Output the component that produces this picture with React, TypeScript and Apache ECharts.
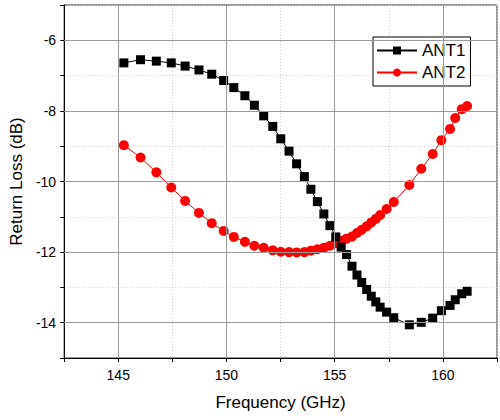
import React, { useEffect, useRef } from "react";
import * as echarts from "echarts";

const frequency = [
  145.26, 146.03, 146.76, 147.45, 148.09, 148.73, 149.32, 149.87, 150.34, 150.85,
  151.29, 151.72, 152.14, 152.51, 152.89, 153.24, 153.6, 153.9, 154.2, 154.5,
  154.78, 155.05, 155.3, 155.55, 155.8, 156.03, 156.25, 156.48, 156.69, 156.9,
  157.1, 157.4, 157.73, 158.45, 159.0, 159.53, 159.93, 160.33, 160.57, 160.87, 161.12,
];
const ant1 = [
  -6.64, -6.55, -6.59, -6.64, -6.73, -6.84, -6.96, -7.14, -7.34, -7.57,
  -7.84, -8.14, -8.44, -8.79, -9.14, -9.5, -9.86, -10.22, -10.57, -10.92,
  -11.25, -11.57, -11.86, -12.07, -12.4, -12.65, -12.86, -13.06, -13.25, -13.41,
  -13.56, -13.7, -13.86, -14.06, -13.99, -13.87, -13.66, -13.51, -13.35, -13.18, -13.11,
];
const ant2 = [
  -8.97, -9.32, -9.74, -10.17, -10.55, -10.89, -11.18, -11.4, -11.57, -11.71,
  -11.82, -11.88, -11.95, -11.99, -12.0, -12.01, -12.0, -11.96, -11.92, -11.88,
  -11.82, -11.75, -11.68, -11.62, -11.56, -11.46, -11.37, -11.27, -11.16, -11.06,
  -10.95, -10.78, -10.58, -10.1, -9.64, -9.22, -8.83, -8.51, -8.2, -7.95, -7.86,
];
const majorX = [145, 150, 155, 160];
const majorY = [-6, -8, -10, -12, -14];

const FONT = "'Liberation Sans', Arial, sans-serif";

export default function App() {
  const ref = useRef<HTMLDivElement>(null);
  useEffect(() => {
    if (!ref.current) return;
    const chart = echarts.init(ref.current, null, { renderer: "svg" });
    const pairs = (ys: number[]) => frequency.map((f, i) => [f, ys[i]]);
    chart.setOption({
      animation: false,
      textStyle: { fontFamily: FONT, color: "#000" },
      grid: {
        left: 64,
        top: 5,
        width: 437,
        height: 353,
        show: true,
        borderColor: "#333",
        borderWidth: 1,
        backgroundColor: "transparent",
      },
      legend: {
        orient: "vertical",
        left: 373,
        top: 37,
        data: ["ANT1", "ANT2"],
        backgroundColor: "#fff",
        borderColor: "#000",
        borderWidth: 1,
        borderRadius: 0,
        padding: [5, 5, 5, 3],
        itemWidth: 40,
        itemHeight: 10,
        itemGap: 5,
        textStyle: { fontFamily: FONT, fontSize: 17, color: "#000" },
      },
      xAxis: {
        type: "value",
        min: 142.5,
        max: 162.5,
        interval: 2.5,
        name: "Frequency (GHz)",
        nameLocation: "middle",
        nameGap: 36,
        nameTextStyle: { fontFamily: FONT, fontSize: 17, color: "#000" },
        axisLine: { show: true, onZero: false, lineStyle: { color: "#000", width: 1 } },
        axisTick: { show: true, inside: false, length: 4, lineStyle: { color: "#000" } },
        axisLabel: {
          fontFamily: FONT,
          fontSize: 14,
          color: "#000",
          margin: 10,
          formatter: (v: number) => (Math.abs(v % 5) < 1e-6 ? String(v) : ""),
        },
        splitLine: { show: true, lineStyle: { color: "#d0d0d0", type: [1, 2], width: 1 } },
      },
      yAxis: {
        type: "value",
        min: -15,
        max: -5,
        interval: 1,
        name: "Return Loss (dB)",
        nameLocation: "middle",
        nameGap: 38,
        nameTextStyle: { fontFamily: FONT, fontSize: 17, color: "#000" },
        axisLine: { show: true, onZero: false, lineStyle: { color: "#000", width: 1 } },
        axisTick: { show: true, inside: false, length: 4, lineStyle: { color: "#000" } },
        axisLabel: {
          fontFamily: FONT,
          fontSize: 14,
          color: "#000",
          margin: 8,
          formatter: (v: number) => (Math.abs(v % 2) < 1e-6 ? String(v) : ""),
        },
        splitLine: { show: true, lineStyle: { color: "#d0d0d0", type: [1, 2], width: 1 } },
      },
      series: [
        {
          name: "grid",
          type: "line",
          data: [],
          z: 1,
          silent: true,
          markLine: {
            silent: true,
            symbol: "none",
            label: { show: false },
            lineStyle: { color: "#9a9a9a", type: "solid", width: 1 },
            data: [
              ...majorX.map((x) => ({ xAxis: x })),
              ...majorY.map((y) => ({ yAxis: y })),
            ],
          },
        },
        {
          name: "ANT1",
          type: "line",
          data: pairs(ant1),
          z: 3,
          symbol: "rect",
          symbolSize: 9,
          itemStyle: { color: "#000" },
          lineStyle: { color: "#000", width: 1 },
        },
        {
          name: "ANT2",
          type: "line",
          data: pairs(ant2),
          z: 2,
          symbol: "circle",
          symbolSize: 10,
          itemStyle: { color: "#ff0000" },
          lineStyle: { color: "#ff0000", width: 1 },
        },
      ],
    });
    return () => chart.dispose();
  }, []);
  return (
    <div
      ref={ref}
      style={{ position: "absolute", left: 0, top: 0, width: 500, height: 420, background: "#fff" }}
    />
  );
}
